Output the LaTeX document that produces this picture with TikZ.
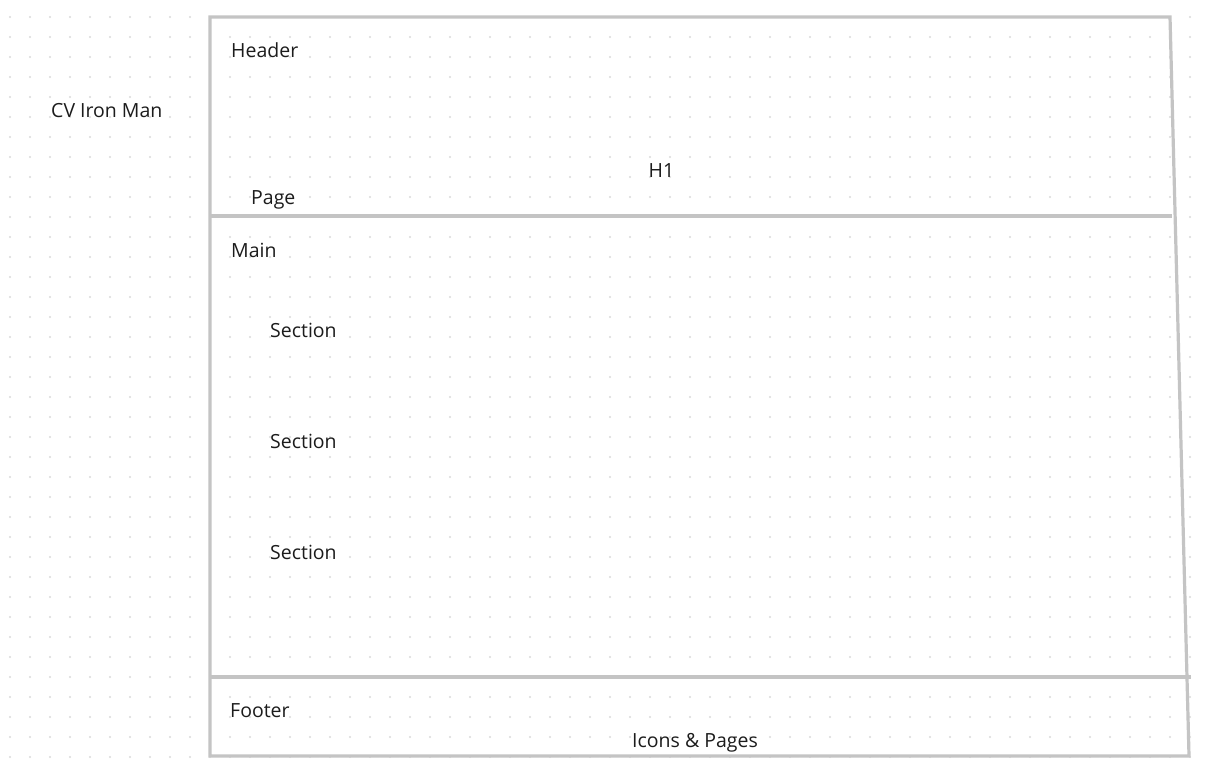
\documentclass[tikz,border=0pt]{standalone}
\usepackage{fontspec}
\setmainfont{Open Sans}
\usepackage{tikz}
\usetikzlibrary{positioning, calc}
\definecolor{wire}{HTML}{C4C4C4}
\definecolor{griddot}{HTML}{DADADA}
\definecolor{ink}{HTML}{1C1C1C}
\tikzset{style={font=\fontsize{19.5}{23}\selectfont}}

\begin{document}
\begin{tikzpicture}[x=1pt,y=-1pt,
            lbl/.style={text=ink,inner sep=0pt,anchor=base west},
            wall/.style={draw=wire,line width=3.2pt,line join=miter}]
            \useasboundingbox[fill=white] (0,0) rectangle (1206,769);
            % dotted canvas
            \foreach \x in {10,30,...,1190}
                \foreach \y in {17,37,...,757}
                    \fill[griddot] (\x,\y) circle[radius=1.1pt];
            % page outline
            \coordinate (tl) at (210,17);
            \coordinate (tr) at (1170,17);
            \coordinate (br) at (1189,756);
            \coordinate (bl) at (210,756);
            \coordinate (hl) at (210,216);
            \coordinate (hr) at (1172,216);
            \coordinate (fl) at (210,677);
            \coordinate (fr) at (1191,677);
            \draw[wall] (tl) -- (tr) -- (br) -- (bl) -- cycle;
            \draw[wall] (hl) -- (hr);
            \draw[wall] (fl) -- (fr);
            % labels
            \node[lbl] (cv) at (51,117) {CV Iron Man};
            \node[lbl] (header) at (231,57) {Header};
            \node[lbl,anchor=base] (hone) at (661.5,177) {H1};
            \node[lbl] (page) at (251,204) {Page};
            \node[lbl] (main) at (231,257) {Main};
            \foreach \y/\n in {337/secone,448/sectwo,559/secthree}
                \node[lbl] (\n) at (270,\y) {Section};
            \node[lbl] (footer) at (230,717) {Footer};
            \node[lbl,anchor=base] (icons) at (695,747) {Icons \& Pages};
        \end{tikzpicture}
\end{document}
